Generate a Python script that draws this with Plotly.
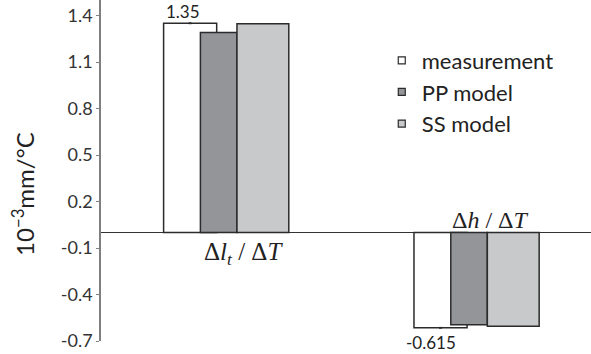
import plotly.graph_objects as go

# Thermal sensitivity per quantity (10^-3 mm/°C)
categories = ["dl_dT", "dh_dT"]
category_labels = ["Δ<i>l</i><sub><i>t</i></sub> / Δ<i>T</i>", "Δ<i>h</i> / Δ<i>T</i>"]
group_pos = [1, 2]

measurement = [1.35, -0.615]
pp_model = [1.29, -0.595]
ss_model = [1.347, -0.605]
measurement_err = [0.006, 0.006]

y_ticks = [1.4, 1.1, 0.8, 0.5, 0.2, -0.1, -0.4, -0.7]
y_ticktext = ["1.4", "1.1", "0.8", "0.5", "0.2", "-0.1", "-0.4", "-0.7"]

EDGE = "#2b2b2b"
SANS = "Lato, 'Liberation Sans', sans-serif"
SERIF = "'Liberation Serif', 'DejaVu Serif', serif"

fig = go.Figure()

# measurement drawn first so the PP bars sit on top of it
fig.add_trace(go.Bar(
    x=group_pos, y=measurement, width=0.212, offset=-0.25,
    marker=dict(color="#ffffff", line=dict(color=EDGE, width=1.5)),
    error_y=dict(type="data", array=measurement_err, symmetric=True,
                 thickness=3, width=0, color=EDGE),
    showlegend=False, hoverinfo="skip",
))
fig.add_trace(go.Bar(
    x=group_pos, y=pp_model, width=0.146, offset=-0.103,
    marker=dict(color="#939598", line=dict(color=EDGE, width=1.5)),
    showlegend=False, hoverinfo="skip",
))
fig.add_trace(go.Bar(
    x=group_pos, y=ss_model, width=0.207, offset=0.043,
    marker=dict(color="#c8c9cb", line=dict(color=EDGE, width=1.5)),
    showlegend=False, hoverinfo="skip",
))

# legend entries with small square swatches
for name, col in [("measurement", "#ffffff"), ("PP model", "#939598"), ("SS model", "#c8c9cb")]:
    fig.add_trace(go.Scatter(
        x=[None], y=[None], mode="markers", name=name, legendgroup=name,
        marker=dict(symbol="square", size=7, color=col, line=dict(color=EDGE, width=1.2)),
    ))

annotations = []
# value labels for the measurement bars
annotations.append(dict(x=group_pos[0] - 0.145, y=measurement[0], text=f"{measurement[0]:.2f}",
                        showarrow=False, yanchor="bottom", xshift=-7, yshift=-1,
                        font=dict(family=SANS, size=17, color="#222")))
annotations.append(dict(x=group_pos[1] - 0.145, y=measurement[1], text=f"{measurement[1]:.3f}",
                        showarrow=False, yanchor="top", xshift=-9, yshift=-2,
                        font=dict(family=SANS, size=17, color="#222")))
# quantity names next to the zero line
annotations.append(dict(x=group_pos[0], y=0, text=category_labels[0], showarrow=False,
                        yanchor="middle", xshift=17, yshift=-21,
                        font=dict(family=SERIF, size=25, color="#222")))
annotations.append(dict(x=group_pos[1], y=0, text=category_labels[1], showarrow=False,
                        yanchor="middle", xshift=14, yshift=13,
                        font=dict(family=SERIF, size=24, color="#222")))
# y-axis title
annotations.append(dict(xref="paper", yref="paper", x=-0.158, y=0.43,
                        text="10<sup>−3</sup>mm/°C", textangle=-90, showarrow=False,
                        xanchor="center", yanchor="middle",
                        font=dict(family=SANS, size=24, color="#222")))

fig.update_layout(
    width=591, height=354,
    margin=dict(l=101, r=0, t=0, b=13),
    paper_bgcolor="white", plot_bgcolor="white",
    barmode="overlay",
    showlegend=True,
    legend=dict(x=0.573, y=0.884, xanchor="left", yanchor="top",
                font=dict(family=SANS, size=22, color="#222"),
                bgcolor="rgba(0,0,0,0)", tracegroupgap=0),
    annotations=annotations,
    xaxis=dict(range=[0.5, 2.457], showticklabels=False, ticks="",
               showline=False, showgrid=False, zeroline=False),
    yaxis=dict(range=[-0.7, 1.5], tickvals=y_ticks, ticktext=y_ticktext,
               ticks="outside", ticklen=3, tickcolor="#808080", tickwidth=1,
               showline=True, linecolor="#808080", linewidth=1.5,
               showgrid=False, zeroline=True, zerolinecolor="#333", zerolinewidth=1,
               tickfont=dict(family=SANS, size=18, color="#333")),
)

fig.write_html("out.html")
